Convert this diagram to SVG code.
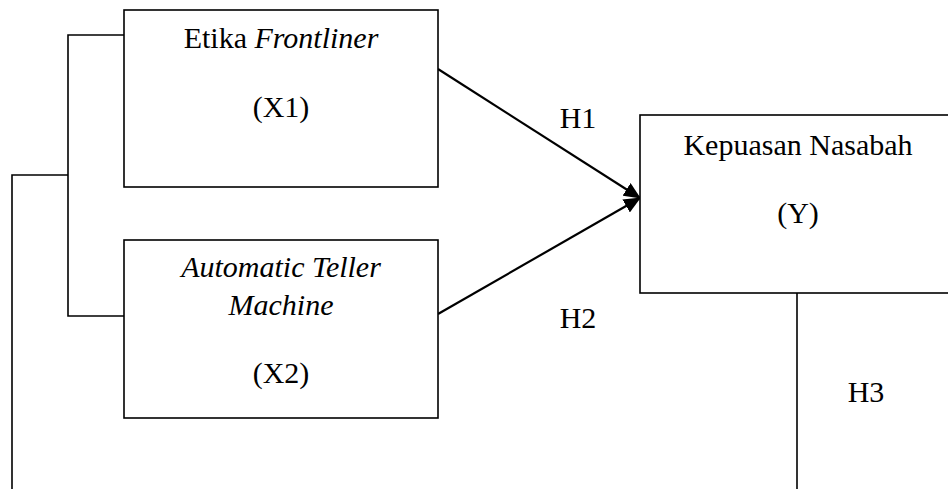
<svg xmlns="http://www.w3.org/2000/svg" width="948" height="489" viewBox="0 0 948 489">
<style>
.box{fill:#fff;stroke:#000;stroke-width:1.6}
.ln{fill:none;stroke:#000;stroke-width:1.6}
.ar{fill:none;stroke:#000;stroke-width:2.2}
text{font-family:"Liberation Serif","Times New Roman",serif;font-size:30px;fill:#000;text-anchor:middle}
.i{font-style:italic}
</style>
<defs>
<marker id="ah" markerWidth="17" markerHeight="15" refX="16" refY="7.5" orient="auto" markerUnits="userSpaceOnUse">
<path d="M0,0 L17,7.5 L0,15 z" fill="#000"/>
</marker>
</defs>
<g id="connectors">
<path class="ln" d="M124,35 H68 V316 H124"/>
<path class="ln" d="M68,175 H12 V489"/>
<path class="ln" d="M797,293 V489"/>
<line class="ar" x1="438" y1="69" x2="640" y2="198" marker-end="url(#ah)"/>
<line class="ar" x1="438" y1="314" x2="640" y2="198" marker-end="url(#ah)"/>
<text x="578" y="128">H1</text>
<text x="578" y="328">H2</text>
<text x="866" y="402">H3</text>
</g>
<g id="x1">
<rect class="box" x="124" y="10" width="314" height="177"/>
<text x="281" y="48">Etika <tspan class="i">Frontliner</tspan></text>
<text x="281" y="117">(X1)</text>
</g>
<g id="x2">
<rect class="box" x="124" y="240" width="314" height="178"/>
<text class="i" x="281" y="277">Automatic Teller</text>
<text class="i" x="281" y="315">Machine</text>
<text x="281" y="383">(X2)</text>
</g>
<g id="y">
<rect class="box" x="640" y="115" width="320" height="178"/>
<text x="798" y="155">Kepuasan Nasabah</text>
<text x="798" y="223">(Y)</text>
</g>
</svg>
